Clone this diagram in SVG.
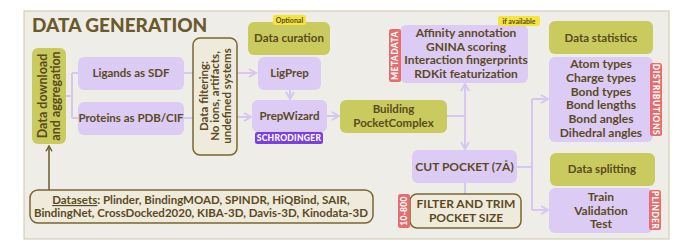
<svg xmlns="http://www.w3.org/2000/svg" width="680" height="247" viewBox="0 0 680 247">
<defs>
<style>
.t{font-family:Lato,"Open Sans","Liberation Sans",sans-serif;font-weight:700;fill:#5b4a1e;text-anchor:middle}
.olive{fill:#c9cb5e}
.lav{fill:#dccbf5}
.beige{fill:#efebdc;stroke:#7a6530;stroke-width:1.5}
.red{fill:#e66d6d}
.tag{font-family:Lato,"Open Sans","Liberation Sans",sans-serif;font-weight:900;fill:#ffffff;text-anchor:middle}
.c{stroke:#d6c6f2;stroke-width:2;fill:none}
</style>
<marker id="a" viewBox="0 0 10 10" refX="8" refY="5" markerWidth="5" markerHeight="5" orient="auto-start-reverse">
<path d="M1,1 L8,5 L1,9" fill="none" stroke="#d6c6f2" stroke-width="2"/>
</marker>
<marker id="ab" viewBox="0 0 10 10" refX="8" refY="5" markerWidth="5" markerHeight="5" orient="auto-start-reverse">
<path d="M1,1 L8,5 L1,9" fill="none" stroke="#6e5a26" stroke-width="2"/>
</marker>
</defs>
<rect x="0" y="0" width="680" height="247" fill="#ffffff"/>
<rect x="24" y="11" width="645" height="228" fill="#efede7" stroke="#cfc6a6" stroke-width="1"/>
<text x="32" y="32" font-family="Lato,'Liberation Sans',sans-serif" font-weight="900" font-size="19" fill="#6b5a2a">DATA GENERATION</text>

<g id="connectors">
<line x1="49" y1="190" x2="49" y2="146" stroke="#6e5a26" stroke-width="1.5" marker-end="url(#ab)"/>
<path class="c" d="M66,96 H72 M72,73 V118 M72,73 H78 M72,118 H78"/>
<line class="c" x1="184" y1="73" x2="193" y2="73"/>
<line class="c" x1="184" y1="118" x2="193" y2="118"/>
<line class="c" x1="237" y1="73" x2="256" y2="73" marker-end="url(#a)"/>
<line class="c" x1="237" y1="117" x2="251" y2="117" marker-end="url(#a)"/>
<line class="c" x1="290" y1="90" x2="290" y2="99" marker-end="url(#a)"/>
<line class="c" x1="327" y1="116" x2="339" y2="116" marker-end="url(#a)"/>
<line class="c" x1="447" y1="116" x2="465" y2="116"/>
<line class="c" x1="465" y1="116" x2="465" y2="84" marker-end="url(#a)"/>
<line class="c" x1="465" y1="116" x2="465" y2="149" marker-end="url(#a)"/>
<line class="c" x1="465" y1="183" x2="465" y2="194"/>
<path class="c" d="M517,167 H532 M532,99 V210"/>
<line class="c" x1="532" y1="99" x2="548" y2="99" marker-end="url(#a)"/>
<line class="c" x1="532" y1="210" x2="548" y2="210" marker-end="url(#a)"/>
</g>

<g id="data-download">
<rect class="olive" x="32" y="48" width="34" height="96" rx="6"/>
<g transform="translate(49,96) rotate(-90)">
<text class="t" font-size="12.5" x="0" y="-2.5">Data download</text>
<text class="t" font-size="12.5" x="0" y="11">and aggregation</text>
</g>
</g>

<g id="datasets">
<rect class="beige" x="30" y="190" width="343" height="33" rx="8"/>
<text class="t" font-size="11.5" x="201" y="204"><tspan text-decoration="underline">Datasets</tspan>: Plinder, BindingMOAD, SPINDR, HiQBind, SAIR,</text>
<text class="t" font-size="11.5" x="201" y="217">BindingNet, CrossDocked2020, KIBA-3D, Davis-3D, Kinodata-3D</text>
</g>

<g id="ligands">
<rect class="lav" x="78" y="57" width="106" height="33" rx="6"/>
<text class="t" font-size="11.5" x="131" y="77">Ligands as SDF</text>
</g>

<g id="proteins">
<rect class="lav" x="78" y="102" width="106" height="33" rx="6"/>
<text class="t" font-size="11.5" x="131" y="122">Proteins as PDB/CIF</text>
</g>

<g id="data-filtering">
<rect class="beige" x="193" y="38" width="44" height="117" rx="7"/>
<g transform="translate(215,96) rotate(-90)">
<text class="t" font-size="11.5" x="0" y="-7.5">Data filtering:</text>
<text class="t" font-size="11.5" x="0" y="4">No ions, artifacts,</text>
<text class="t" font-size="11.5" x="0" y="15.5">undefined systems</text>
</g>
</g>

<g id="data-curation">
<rect class="olive" x="248" y="22" width="82" height="33" rx="6"/>
<text class="t" font-size="11.5" x="289" y="42">Data curation</text>
<rect x="273" y="15" width="33" height="10" rx="2" fill="#f4e43c"/>
<text class="t" font-size="7" x="289.5" y="22.5">Optional</text>
</g>

<g id="ligprep">
<rect class="lav" x="258" y="57" width="63" height="33" rx="6"/>
<text class="t" font-size="11.5" x="289.5" y="77">LigPrep</text>
</g>

<g id="prepwizard">
<rect class="lav" x="252" y="100" width="75" height="32" rx="6"/>
<text class="t" font-size="11.5" x="289.5" y="120">PrepWizard</text>
<rect x="255" y="132" width="68" height="12" rx="2.5" fill="#7b3fe4"/>
<text class="tag" font-size="8.5" x="289" y="141.2" letter-spacing="0.3">SCHRODINGER</text>
</g>

<g id="building">
<rect class="olive" x="340" y="100" width="107" height="33" rx="6"/>
<text class="t" font-size="11.5" x="393.5" y="113">Building</text>
<text class="t" font-size="11.5" x="393.5" y="127">PocketComplex</text>
</g>

<g id="metadata">
<rect class="lav" x="400" y="25" width="128" height="58" rx="6"/>
<text class="t" font-size="12" x="466" y="37">Affinity annotation</text>
<text class="t" font-size="12" x="466" y="50.5">GNINA scoring</text>
<text class="t" font-size="12" x="466" y="64">Interaction fingerprints</text>
<text class="t" font-size="12" x="466" y="77.5">RDKit featurization</text>
<rect class="red" x="389" y="29" width="12" height="53" rx="2.5"/>
<text class="tag" font-size="8.5" letter-spacing="0.4" transform="translate(398,55.5) rotate(-90)">METADATA</text>
<rect x="498" y="16" width="42" height="10" rx="2" fill="#f4e43c"/>
<text class="t" font-size="7" x="519" y="23.5">if available</text>
</g>

<g id="cut-pocket">
<rect class="lav" x="412" y="150" width="105" height="33" rx="6"/>
<text class="t" font-size="12" x="464.5" y="170.5">CUT POCKET (7Å)</text>
</g>

<g id="filter-trim">
<rect class="beige" x="410" y="194" width="111" height="34" rx="7"/>
<text class="t" font-size="12" x="466" y="208">FILTER AND TRIM</text>
<text class="t" font-size="12" x="466" y="222">POCKET SIZE</text>
<rect class="red" x="398" y="194" width="12" height="34" rx="2.5"/>
<text class="tag" font-size="8.5" letter-spacing="0.3" transform="translate(407,211) rotate(-90)">10-800</text>
</g>

<g id="data-statistics">
<rect class="olive" x="549" y="21" width="104" height="33" rx="6"/>
<text class="t" font-size="11.5" x="601" y="41.5">Data statistics</text>
</g>

<g id="distributions">
<rect class="lav" x="549" y="57" width="104" height="85" rx="6"/>
<text class="t" font-size="12" x="601" y="68">Atom types</text>
<text class="t" font-size="12" x="601" y="82">Charge types</text>
<text class="t" font-size="12" x="601" y="95.5">Bond types</text>
<text class="t" font-size="12" x="601" y="109">Bond lengths</text>
<text class="t" font-size="12" x="601" y="123">Bond angles</text>
<text class="t" font-size="12" x="601" y="137">Dihedral angles</text>
<rect class="red" x="650" y="63" width="12" height="73" rx="2.5"/>
<text class="tag" font-size="8.5" letter-spacing="0.5" transform="translate(653,99.5) rotate(90)">DISTRIBUTIONS</text>
</g>

<g id="data-splitting">
<rect class="olive" x="550" y="153" width="105" height="33" rx="6"/>
<text class="t" font-size="11.5" x="602" y="173">Data splitting</text>
</g>

<g id="splits">
<rect class="lav" x="549" y="188" width="104" height="45" rx="6"/>
<text class="t" font-size="12" x="601" y="201">Train</text>
<text class="t" font-size="12" x="601" y="214.5">Validation</text>
<text class="t" font-size="12" x="601" y="228">Test</text>
<rect class="red" x="649" y="190" width="12" height="40" rx="2.5"/>
<text class="tag" font-size="8.5" letter-spacing="0.4" transform="translate(652,210) rotate(90)">PLINDER</text>
</g>
</svg>
